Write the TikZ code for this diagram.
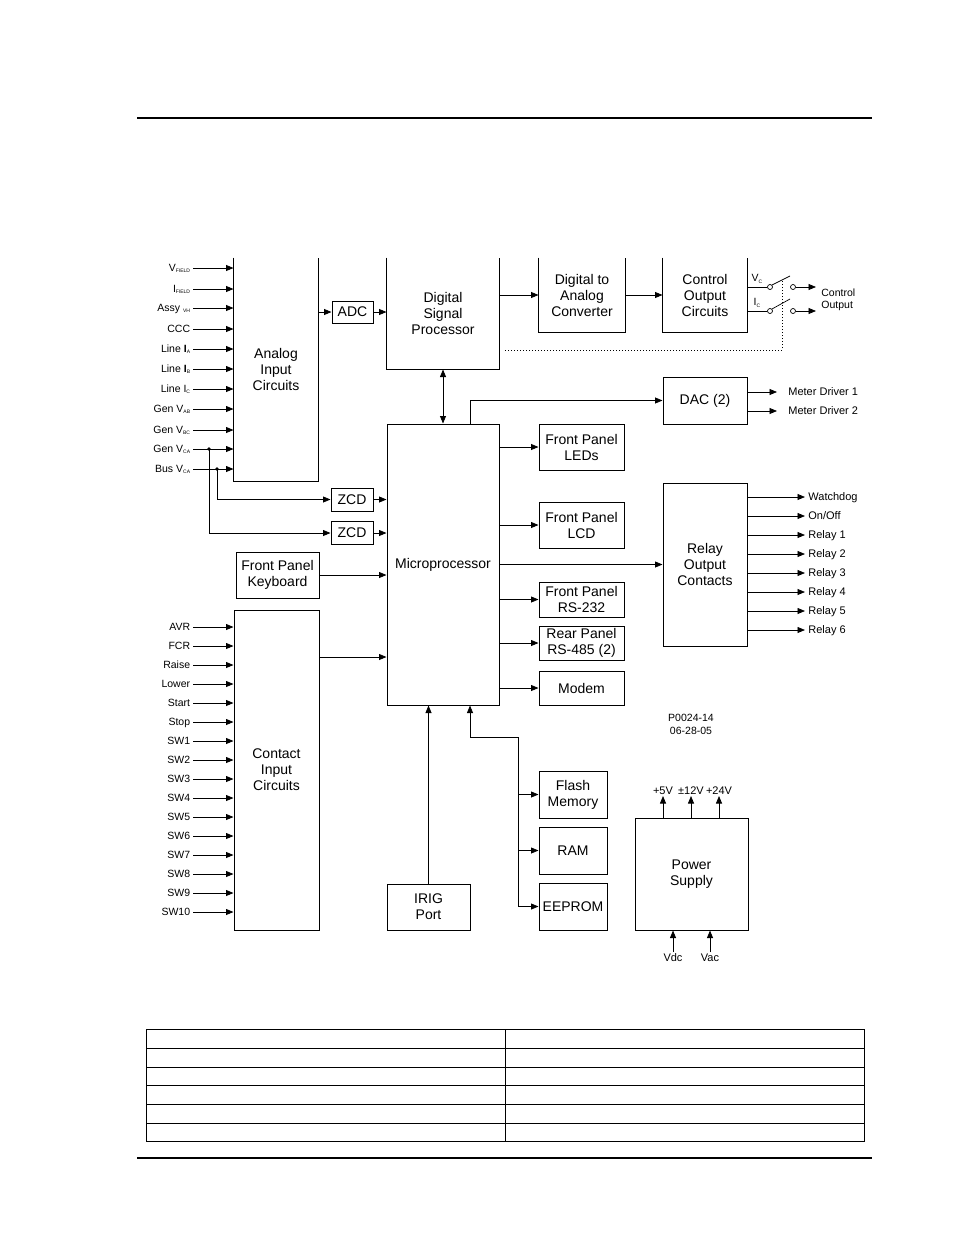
\documentclass[tikz,border=0pt]{standalone}
\usepackage{fontspec}
\setmainfont{Liberation Sans}
\usetikzlibrary{arrows.meta,positioning}
\newcommand{\sbs}[1]{\raisebox{-1.2pt}{\fontsize{5}{5}\selectfont #1}}
\tikzset{
  blk/.style={draw, line width=1pt, align=center, inner sep=0pt,
              font=\fontsize{14}{16}\selectfont},
  inl/.style={anchor=east, inner xsep=2.5pt, inner ysep=1pt, text height=7.5pt, text depth=0pt,
              font=\fontsize{10.5}{12}\selectfont},
  outl/.style={anchor=west, inner sep=1pt, text height=7.9pt, text depth=0pt,
              font=\fontsize{11}{13}\selectfont},
  sw/.style={circle, draw, inner sep=0pt, minimum size=5pt, line width=0.7pt}
}
\begin{document}
\begin{tikzpicture}[x=1pt, y=-1pt, >={Triangle[length=7.5pt,width=6pt]}, line width=0.8pt]
  \useasboundingbox (0,0) rectangle (954,1235);
  % page rules and empty table
  \draw[line width=1.2pt] (137,118) -- (872,118);
  \draw[line width=1.2pt] (137,1158) -- (872,1158);
  \draw[line width=1pt] (146,1029) rectangle (864,1141);
  \foreach \y in {1048,1067,1085,1104,1123}
    \draw[line width=1pt] (146,\y) -- (864,\y);
  \draw[line width=1pt] (505,1029) -- (505,1141);

  % blocks cut off by the top of the figure
  \node[blk, draw=none, minimum width=84, minimum height=223] (ana) at (276,369.5) {Analog\\Input\\Circuits};
  \node[blk, draw=none, minimum width=112, minimum height=111] (dsp) at (443,313.5) {Digital\\Signal\\Processor};
  \node[blk, draw=none, minimum width=86, minimum height=74] (dtoa) at (582,295) {Digital to\\Analog\\Converter};
  \node[blk, draw=none, minimum width=84, minimum height=74] (ctl) at (705,295) {Control\\Output\\Circuits};
  \draw[line width=1pt] (ana.north west) |- (ana.south east) -- (ana.north east);
  \draw[line width=1pt] (dsp.north west) |- (dsp.south east) -- (dsp.north east);
  \draw[line width=1pt] (dtoa.north west) |- (dtoa.south east) -- (dtoa.north east);
  \draw[line width=1pt] (ctl.north west) |- (ctl.south east) -- (ctl.north east);

  % closed blocks
  \node[blk, minimum width=41, minimum height=22] (adc) at (352.5,312) {ADC};
  \node[blk, minimum width=42, minimum height=23] (zcda) at (352,499.5) {ZCD};
  \node[blk, minimum width=42, minimum height=23] (zcdb) at (352,533) {ZCD};
  \node[blk, minimum width=83, minimum height=46] (kbd) at (277.5,575) {Front Panel\\Keyboard};
  \node[blk, minimum width=85, minimum height=320] (cic) at (276.5,770) {Contact\\Input\\Circuits};
  \node[blk, minimum width=112, minimum height=281] (mp) at (443,564.5) {Microprocessor};
  \node[blk, minimum width=84, minimum height=47] (dac) at (705,400.5) {DAC (2)};
  \node[blk, minimum width=85, minimum height=46] (led) at (581.5,447) {Front Panel\\LEDs};
  \node[blk, minimum width=85, minimum height=46] (lcd) at (581.5,525) {Front Panel\\LCD};
  \node[blk, minimum width=85, minimum height=35] (rsa) at (581.5,599.5) {Front Panel\\RS-232};
  \node[blk, minimum width=85, minimum height=34] (rsb) at (581.5,643) {Rear Panel\\RS-485 (2)};
  \node[blk, minimum width=85, minimum height=34] (modem) at (581.5,688) {Modem};
  \node[blk, minimum width=84, minimum height=163] (rly) at (705,564.5) {Relay\\Output\\Contacts};
  \node[blk, minimum width=83, minimum height=46] (irig) at (428.5,907) {IRIG\\Port};
  \node[blk, minimum width=68, minimum height=47] (flash) at (573,794.5) {Flash\\Memory};
  \node[blk, minimum width=68, minimum height=47] (ram) at (573,850.5) {RAM};
  \node[blk, minimum width=68, minimum height=47] (eeprom) at (573,906.5) {EEPROM};
  \node[blk, minimum width=113, minimum height=112] (pwr) at (691.5,874) {Power\\Supply};

  % analog inputs
  \node[inl] (vfld) at (193,268) {V\sbs{FIELD}};
  \node[inl] (ifld) at (193,289) {I\sbs{FIELD}};
  \node[inl] (assy) at (193,308) {Assy \sbs{VH}};
  \node[inl] (ccc)  at (193,329) {CCC};
  \node[inl] (lia)  at (193,349) {Line \textbf{I}\sbs{A}};
  \node[inl] (lib)  at (193,369) {Line \textbf{I}\sbs{B}};
  \node[inl] (lic)  at (193,389) {Line I\sbs{C}};
  \node[inl] (gvab) at (193,409) {Gen V\sbs{AB}};
  \node[inl] (gvbc) at (193,430) {Gen V\sbs{BC}};
  \node[inl] (gvca) at (193,449) {Gen V\sbs{CA}};
  \node[inl] (bvca) at (193,469) {Bus V\sbs{CA}};
  \draw[->] (vfld.east) -- (vfld.east -| ana.west);
  \draw[->] (ifld.east) -- (ifld.east -| ana.west);
  \draw[->] (assy.east) -- (assy.east -| ana.west);
  \draw[->] (ccc.east)  -- (ccc.east -| ana.west);
  \draw[->] (lia.east)  -- (lia.east -| ana.west);
  \draw[->] (lib.east)  -- (lib.east -| ana.west);
  \draw[->] (lic.east)  -- (lic.east -| ana.west);
  \draw[->] (gvab.east) -- (gvab.east -| ana.west);
  \draw[->] (gvbc.east) -- (gvbc.east -| ana.west);
  \draw[->] (gvca.east) -- (gvca.east -| ana.west);
  \draw[->] (bvca.east) -- (bvca.east -| ana.west);
  % taps to the zero crossing detectors
  \coordinate (tapgen) at (209,449);
  \coordinate (tapbus) at (217,469);
  \fill (tapgen) circle (1.8pt);
  \fill (tapbus) circle (1.8pt);
  \draw[->] (tapbus) |- (zcda.west);
  \draw[->] (tapgen) |- (zcdb.west);

  % contact inputs
  \node[inl] (avr)   at (193,627) {AVR};
  \node[inl] (fcr)   at (193,646) {FCR};
  \node[inl] (raise) at (193,665) {Raise};
  \node[inl] (lower) at (193,684) {Lower};
  \node[inl] (start) at (193,703) {Start};
  \node[inl] (stop)  at (193,722) {Stop};
  \node[inl] (swa)   at (193,741) {SW1};
  \node[inl] (swb)   at (193,760) {SW2};
  \node[inl] (swc)   at (193,779) {SW3};
  \node[inl] (swd)   at (193,798) {SW4};
  \node[inl] (swe)   at (193,817) {SW5};
  \node[inl] (swf)   at (193,836) {SW6};
  \node[inl] (swg)   at (193,855) {SW7};
  \node[inl] (swh)   at (193,874) {SW8};
  \node[inl] (swi)   at (193,893) {SW9};
  \node[inl] (swj)   at (193,912) {SW10};
  \draw[->] (avr.east)   -- (avr.east -| cic.west);
  \draw[->] (fcr.east)   -- (fcr.east -| cic.west);
  \draw[->] (raise.east) -- (raise.east -| cic.west);
  \draw[->] (lower.east) -- (lower.east -| cic.west);
  \draw[->] (start.east) -- (start.east -| cic.west);
  \draw[->] (stop.east)  -- (stop.east -| cic.west);
  \draw[->] (swa.east)   -- (swa.east -| cic.west);
  \draw[->] (swb.east)   -- (swb.east -| cic.west);
  \draw[->] (swc.east)   -- (swc.east -| cic.west);
  \draw[->] (swd.east)   -- (swd.east -| cic.west);
  \draw[->] (swe.east)   -- (swe.east -| cic.west);
  \draw[->] (swf.east)   -- (swf.east -| cic.west);
  \draw[->] (swg.east)   -- (swg.east -| cic.west);
  \draw[->] (swh.east)   -- (swh.east -| cic.west);
  \draw[->] (swi.east)   -- (swi.east -| cic.west);
  \draw[->] (swj.east)   -- (swj.east -| cic.west);

  % signal path along the top
  \draw[->] (ana.east |- adc.west) -- (adc.west);
  \draw[->] (adc.east) -- (adc.east -| dsp.west);
  \draw[->] (dsp.east |- dtoa.west) -- (dtoa.west);
  \draw[->] (dtoa.east) -- (ctl.west);

  % control output switches
  \node[sw] (vca) at (770,287) {};
  \node[sw] (vcb) at (793,287) {};
  \node[sw] (ica) at (770,311) {};
  \node[sw] (icb) at (793,311) {};
  \coordinate (vctip) at (790,276);
  \coordinate (ictip) at (790,299);
  \draw (ctl.east |- vca) -- (vca.west);
  \draw (ctl.east |- ica) -- (ica.west);
  \draw[line width=0.7pt] (vca.north east) -- (vctip);
  \draw[line width=0.7pt] (ica.north east) -- (ictip);
  \node[font=\fontsize{10.5}{12}\selectfont, inner sep=0pt] (vclbl) at (757,279) {V\sbs{C}};
  \node[font=\fontsize{10.5}{12}\selectfont, inner sep=0pt] (iclbl) at (757,303) {I\sbs{C}};
  \node[outl, align=left, text height=, font=\fontsize{10.5}{12}\selectfont] (cout) at (820,299) {Control\\Output};
  \draw[->] (vcb.east) -- (vcb.east -| 816,0);
  \draw[->] (icb.east) -- (icb.east -| 816,0);
  \draw[dotted, line width=1pt] (505,350) -| (782,281);

  % microprocessor links
  \draw[<->] (dsp.south) -- (mp.north);
  \draw[->] ([xshift=27pt]mp.north) |- (dac.west);
  \draw[->] (zcda.east) -- (zcda.east -| mp.west);
  \draw[->] (zcdb.east) -- (zcdb.east -| mp.west);
  \draw[->] (kbd.east) -- (kbd.east -| mp.west);
  \draw[->] ([yshift=113pt]cic.east) -- ([yshift=113pt]cic.east -| mp.west);
  \draw[->] (mp.east |- led.west) -- (led.west);
  \draw[->] (mp.east |- lcd.west) -- (lcd.west);
  \draw[->] (mp.east |- rsa.west) -- (rsa.west);
  \draw[->] (mp.east |- rsb.west) -- (rsb.west);
  \draw[->] (mp.east |- modem.west) -- (modem.west);
  \draw[->] (mp.east) -- (rly.west);
  \draw[->] (irig.north) -- (irig.north |- mp.south);
  % memory bus
  \coordinate (bus) at (518,737);
  \draw[->] (bus) -| ([xshift=27pt]mp.south);
  \draw[->] (bus) |- (eeprom.west);
  \draw[->] (bus |- flash.west) -- (flash.west);
  \draw[->] (bus |- ram.west) -- (ram.west);

  % meter drivers
  \node[outl] (mda) at (787,392) {Meter Driver 1};
  \node[outl] (mdb) at (787,411) {Meter Driver 2};
  \draw[->] (dac.east |- mda) -- ([xshift=-10pt]mda.west);
  \draw[->] (dac.east |- mdb) -- ([xshift=-10pt]mdb.west);

  % relay outputs
  \node[outl] (wdog) at (807,497) {Watchdog};
  \node[outl] (onof) at (807,516) {On/Off};
  \node[outl] (rla)  at (807,535) {Relay 1};
  \node[outl] (rlb)  at (807,554) {Relay 2};
  \node[outl] (rlc)  at (807,573) {Relay 3};
  \node[outl] (rld)  at (807,592) {Relay 4};
  \node[outl] (rle)  at (807,611) {Relay 5};
  \node[outl] (rlf)  at (807,630) {Relay 6};
  \draw[->] (rly.east |- wdog) -- ([xshift=-2pt]wdog.west);
  \draw[->] (rly.east |- onof) -- ([xshift=-2pt]onof.west);
  \draw[->] (rly.east |- rla) -- ([xshift=-2pt]rla.west);
  \draw[->] (rly.east |- rlb) -- ([xshift=-2pt]rlb.west);
  \draw[->] (rly.east |- rlc) -- ([xshift=-2pt]rlc.west);
  \draw[->] (rly.east |- rld) -- ([xshift=-2pt]rld.west);
  \draw[->] (rly.east |- rle) -- ([xshift=-2pt]rle.west);
  \draw[->] (rly.east |- rlf) -- ([xshift=-2pt]rlf.west);

  % power supply
  \node[outl, anchor=south] (pfive) at (663,796) {+5V};
  \node[outl, anchor=south] (ptwelve) at (691,796) {±12V};
  \node[outl, anchor=south] (pforty) at (719,796) {+24V};
  \draw[->] (pwr.north -| pfive) -- (pfive.south);
  \draw[->] (pwr.north -| ptwelve) -- (ptwelve.south);
  \draw[->] (pwr.north -| pforty) -- (pforty.south);
  \node[outl, anchor=north] (vdc) at (673,952) {Vdc};
  \node[outl, anchor=north] (vac) at (710,952) {Vac};
  \draw[->] (vdc.north) -- (vdc.north |- pwr.south);
  \draw[->] (vac.north) -- (vac.north |- pwr.south);

  % drawing number
  \node[align=center, font=\fontsize{10.5}{13}\selectfont] (dwg) at (691,724.5) {P0024-14\\06-28-05};
\end{tikzpicture}
\end{document}
